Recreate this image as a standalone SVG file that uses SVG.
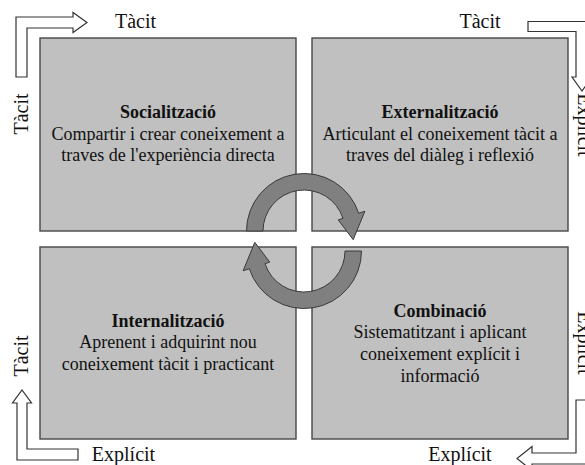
<svg xmlns="http://www.w3.org/2000/svg" width="585" height="465" viewBox="0 0 585 465">
  <style>
    .box { fill: #c0c0c0; stroke: #474747; stroke-width: 1.4; }
    .label { font-family: "Liberation Serif", "Times New Roman", serif; font-size: 20px; fill: #111; }
    .body { font-family: "Liberation Serif", "Times New Roman", serif; font-size: 18px; fill: #111; text-anchor: middle; }
    .title { font-weight: bold; }
    .flow { fill: #ffffff; stroke: #333; stroke-width: 1.2; stroke-linejoin: miter; }
    .cycle { fill: #808080; stroke: #3a3a3a; stroke-width: 1; }
  </style>
  <rect width="585" height="465" fill="#ffffff"/>

  <!-- four knowledge-conversion quadrants -->
  <g id="socialitzacio">
    <rect class="box" x="40" y="38" width="256" height="193"/>
    <text class="body" x="168"><tspan class="title" x="168" y="118">Socialització</tspan><tspan x="168" y="139.7">Compartir i crear coneixement a</tspan><tspan x="168" y="161.3">traves de l'experiència directa</tspan></text>
  </g>
  <g id="externalitzacio">
    <rect class="box" x="312" y="38" width="256" height="193"/>
    <text class="body" x="440"><tspan class="title" x="440" y="118">Externalització</tspan><tspan x="440" y="139.7">Articulant el coneixement tàcit a</tspan><tspan x="440" y="161.3">traves del diàleg i reflexió</tspan></text>
  </g>
  <g id="internalitzacio">
    <rect class="box" x="40" y="247" width="256" height="192"/>
    <text class="body" x="168"><tspan class="title" x="168" y="326.5">Internalització</tspan><tspan x="168" y="348.2">Aprenent i adquirint nou</tspan><tspan x="168" y="369.9">coneixement tàcit i practicant</tspan></text>
  </g>
  <g id="combinacio">
    <rect class="box" x="312" y="247" width="256" height="192"/>
    <text class="body" x="440"><tspan class="title" x="440" y="316.5">Combinació</tspan><tspan x="440" y="338.2">Sistematitzant i aplicant</tspan><tspan x="440" y="359.9">coneixement explícit i</tspan><tspan x="440" y="381.6">informació</tspan></text>
  </g>

  <!-- connectors: outer L-shaped flow arrows and the central cycle -->
  <g id="connectors">
    <path class="flow" d="M16,77 L16,17 L73,17 L73,12.5 L87,22.5 L73,32.5 L73,28 L27,28 L27,77 Z"/>
    <path class="flow" d="M528,21.5 L588,21.5 L588,77 L592,77 L582,91 L572,77 L576,77 L576,31.5 L528,31.5 Z"/>
    <path class="flow" d="M17,403 L12.5,403 L22,390 L31.5,403 L27,403 L27,449 L78,449 L78,460 L17,460 Z"/>
    <path class="flow" d="M576,400 L588,400 L588,464 L532,464 L532,470.5 L517,458.5 L532,446.5 L532,453 L576,453 Z"/>

    <path class="cycle" d="M246.5,231 A57.5,57.5 0 0 1 358.69,213.23 L364.87,211.22 L353.2,239.7 L338.24,219.88 L342.99,218.33 A41,41 0 0 0 263,231 Z"/>
    <path class="cycle" d="M361.5,251 A57.5,57.5 0 0 1 249.31,268.77 L243.13,270.78 L254.8,242.3 L269.76,262.12 L265.01,263.67 A41,41 0 0 0 345,251 Z"/>
  </g>

  <!-- axis labels -->
  <g id="labels">
    <text class="label" x="135.5" y="28.3" text-anchor="middle">Tàcit</text>
    <text class="label" x="480" y="28.3" text-anchor="middle">Tàcit</text>
    <text class="label" x="123.5" y="460.7" text-anchor="middle">Explícit</text>
    <text class="label" x="460" y="460.7" text-anchor="middle">Explícit</text>
    <text class="label" text-anchor="middle" transform="translate(28,114) rotate(-90)">Tàcit</text>
    <text class="label" text-anchor="middle" transform="translate(28,356) rotate(-90)">Tàcit</text>
    <text class="label" text-anchor="middle" transform="translate(578,125) rotate(90)">Explícit</text>
    <text class="label" text-anchor="middle" transform="translate(578,343) rotate(90)">Explícit</text>
  </g>
</svg>
